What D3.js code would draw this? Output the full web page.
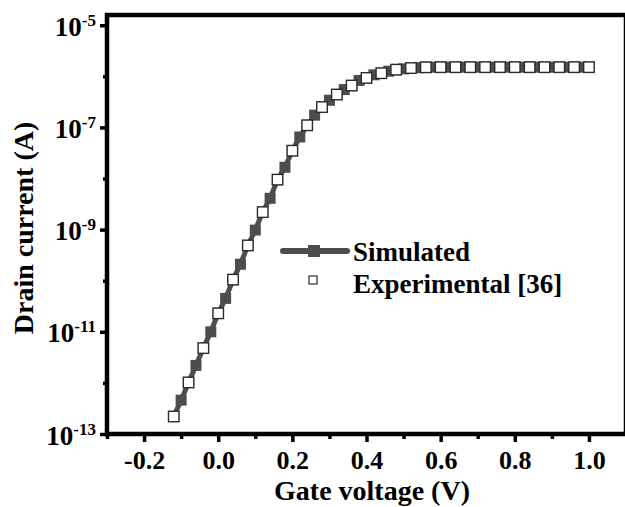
<!DOCTYPE html>
<html><head><meta charset="utf-8">
<script src="https://cdn.jsdelivr.net/npm/d3@7"></script>
<style>
body{margin:0;background:#fff}
svg{display:block}
text{font-family:"Liberation Serif","Times New Roman",serif;font-weight:bold;fill:#000}
</style>
</head><body>
<svg id="c" width="625" height="507"></svg>
<script>
// ---- data ----
const simVoltage = [-0.12,-0.10,-0.08,-0.06,-0.04,-0.02,0.00,0.02,0.04,0.06,0.08,0.10,0.12,0.14,0.16,0.18,0.20,0.22,0.24,0.26,0.28,0.30,0.32,0.34,0.36,0.38,0.40,0.42,0.44,0.46,0.48,0.50,0.52,0.54,0.56,0.58,0.60,0.62,0.64,0.66,0.68,0.70,0.72,0.74,0.76,0.78,0.80,0.82,0.84,0.86,0.88,0.90,0.92,0.94,0.96,0.98,1.00];
const simCurrent = [2.2e-13,4.6e-13,1.02e-12,2.2e-12,4.8e-12,1.0e-11,2.3e-11,4.5e-11,1.05e-10,2.1e-10,4.9e-10,9.8e-10,2.2e-9,4.1e-9,9.5e-9,1.66e-8,3.5e-8,6.5e-8,1.1e-7,1.74e-7,2.5e-7,3.4e-7,4.4e-7,5.5e-7,6.6e-7,8.3e-7,9.3e-7,1.07e-6,1.15e-6,1.26e-6,1.35e-6,1.40e-6,1.45e-6,1.48e-6,1.50e-6,1.51e-6,1.51e-6,1.51e-6,1.51e-6,1.51e-6,1.51e-6,1.51e-6,1.51e-6,1.51e-6,1.51e-6,1.51e-6,1.51e-6,1.51e-6,1.51e-6,1.51e-6,1.51e-6,1.51e-6,1.51e-6,1.51e-6,1.51e-6,1.51e-6,1.51e-6];
const expVoltage = [-0.12,-0.08,-0.04,0.00,0.04,0.08,0.12,0.16,0.20,0.24,0.28,0.32,0.36,0.40,0.44,0.48,0.52,0.56,0.60,0.64,0.68,0.72,0.76,0.80,0.84,0.88,0.92,0.96,1.00];
const expCurrent = [2.2e-13,1.02e-12,4.8e-12,2.3e-11,1.05e-10,4.9e-10,2.2e-9,9.5e-9,3.5e-8,1.1e-7,2.5e-7,4.4e-7,6.6e-7,9.3e-7,1.15e-6,1.35e-6,1.45e-6,1.50e-6,1.51e-6,1.51e-6,1.51e-6,1.51e-6,1.51e-6,1.51e-6,1.51e-6,1.51e-6,1.51e-6,1.51e-6,1.51e-6];
const xTicks = [-0.2,0.0,0.2,0.4,0.6,0.8,1.0];
const xMinorTicks = [-0.3,-0.1,0.1,0.3,0.5,0.7,0.9];
const yExponents = [-13,-11,-9,-7,-5];
const yMinorExponents = [-12,-10,-8,-6];
const seriesNames = ["Simulated","Experimental [36]"];
const xTitle = "Gate voltage (V)";
const yTitle = "Drain current (A)";

// ---- layout ----
const L = 107, R = 626, T = 15, B = 434;
const simColor = "#4d4d4d";
const svg = d3.select("#c");

const x = d3.scaleLinear().domain([-0.3, 1.1]).range([L, R]);
const y = d3.scaleLog().domain([1e-13, Math.pow(10, -4.8)]).range([B, T]);

// ---- axes ----
const gx = svg.append("g").attr("transform", `translate(0,${B})`)
  .call(d3.axisBottom(x).tickValues(xTicks).tickSize(8).tickFormat(d3.format(".1f")));
gx.select(".domain").remove();
gx.selectAll(".tick line").attr("stroke", "#000").attr("stroke-width", 3.5);
gx.selectAll(".tick text").attr("y", 35).attr("dy", 0).attr("font-size", 26)
  .attr("fill", "#000").text(d => d3.format(".1f")(d).replace("−", "-"));

const gxm = svg.append("g").attr("transform", `translate(0,${B})`)
  .call(d3.axisBottom(x).tickValues(xMinorTicks).tickSize(5).tickFormat(""));
gxm.select(".domain").remove();
gxm.selectAll(".tick line").attr("stroke", "#000").attr("stroke-width", 3.5);

const gy = svg.append("g").attr("transform", `translate(${L},0)`)
  .call(d3.axisLeft(y).tickValues(yExponents.map(e => Math.pow(10, e))).tickSize(7).tickFormat(""));
gy.select(".domain").remove();
gy.selectAll(".tick line").attr("stroke", "#000").attr("stroke-width", 3.5);
gy.selectAll(".tick").each(function(d, i) {
  const t = d3.select(this).append("text")
    .attr("x", -11).attr("y", 10).attr("text-anchor", "end").attr("fill", "#000");
  t.append("tspan").attr("font-size", 27).text("10");
  t.append("tspan").attr("font-size", 17).attr("dy", -10).text("-" + Math.abs(yExponents[i]));
});

const gym = svg.append("g").attr("transform", `translate(${L},0)`)
  .call(d3.axisLeft(y).tickValues(yMinorExponents.map(e => Math.pow(10, e))).tickSize(4).tickFormat(""));
gym.select(".domain").remove();
gym.selectAll(".tick line").attr("stroke", "#000").attr("stroke-width", 3.5);

// ---- frame ----
svg.append("rect").attr("x", L).attr("y", T).attr("width", R - L).attr("height", B - T)
  .attr("fill", "none").attr("stroke", "#000").attr("stroke-width", 4.5);

// ---- series ----
const simData = simVoltage.map((v, i) => [v, simCurrent[i]]);
const expData = expVoltage.map((v, i) => [v, expCurrent[i]]);

svg.append("path").datum(simData)
  .attr("d", d3.line().x(d => x(d[0])).y(d => y(d[1])))
  .attr("fill", "none").attr("stroke", simColor).attr("stroke-width", 5);

const sq = 11;
svg.append("g").selectAll("rect").data(simData).join("rect")
  .attr("x", d => x(d[0]) - sq / 2).attr("y", d => y(d[1]) - sq / 2)
  .attr("width", sq).attr("height", sq).attr("fill", simColor);

const osq = 10.5;
svg.append("g").selectAll("rect").data(expData).join("rect")
  .attr("x", d => x(d[0]) - osq / 2).attr("y", d => y(d[1]) - osq / 2)
  .attr("width", osq).attr("height", osq).attr("fill", "#fff")
  .attr("stroke", "#2a2a2a").attr("stroke-width", 1.4);

// ---- legend ----
const lg = svg.append("g");
lg.append("line").attr("x1", 283).attr("x2", 347).attr("y1", 251).attr("y2", 251)
  .attr("stroke", simColor).attr("stroke-width", 6).attr("stroke-linecap", "round");
lg.append("rect").attr("x", 308).attr("y", 245).attr("width", 12).attr("height", 12).attr("fill", simColor);
lg.append("text").attr("x", 353).attr("y", 261).attr("font-size", 27).text(seriesNames[0]);
lg.append("rect").attr("x", 309).attr("y", 276).attr("width", 8).attr("height", 8)
  .attr("fill", "#fff").attr("stroke", "#2a2a2a").attr("stroke-width", 1.2);
lg.append("text").attr("x", 353).attr("y", 293).attr("font-size", 27).text(seriesNames[1]);

// ---- titles ----
svg.append("text").attr("x", 372).attr("y", 500).attr("text-anchor", "middle")
  .attr("font-size", 28).text(xTitle);
svg.append("text").attr("transform", "translate(33,228) rotate(-90)").attr("text-anchor", "middle")
  .attr("font-size", 28).text(yTitle);
</script>
</body></html>
